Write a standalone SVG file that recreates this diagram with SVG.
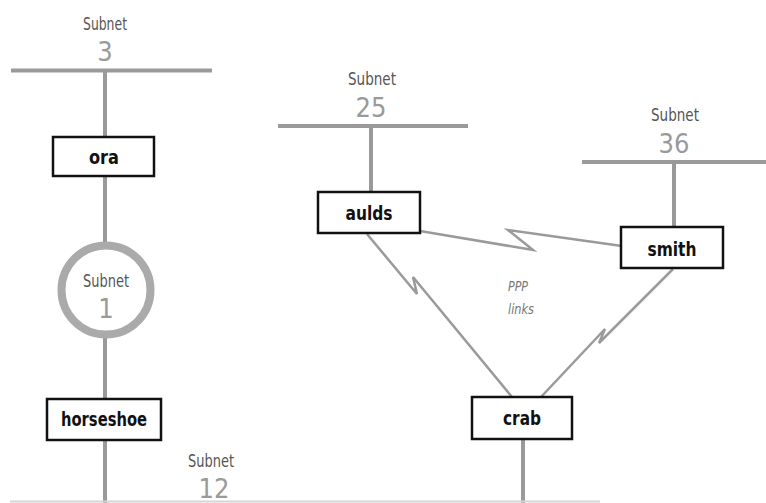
<svg xmlns="http://www.w3.org/2000/svg" width="766" height="503" viewBox="0 0 766 503">
<style>
.bus{stroke:#9a9a9a;stroke-width:4;fill:none}
.link{stroke:#9a9a9a;stroke-width:2.5;fill:none;stroke-linejoin:miter}
.box{fill:#fff;stroke:#111;stroke-width:2.5}
.lbl{font-family:"Liberation Sans Narrow","DejaVu Sans Condensed","Liberation Sans",sans-serif;font-weight:bold;font-size:20px;fill:#111;text-anchor:middle}
.sub{font-family:"Liberation Sans Narrow","DejaVu Sans Condensed","Liberation Sans",sans-serif;font-size:17px;fill:#555;text-anchor:middle}
.num{font-family:"Liberation Sans Narrow","DejaVu Sans Condensed","Liberation Sans",sans-serif;font-size:27px;fill:#9a9a9a;text-anchor:middle}
.ppp{font-family:"Liberation Sans Narrow","DejaVu Sans Condensed","Liberation Sans",sans-serif;font-style:italic;font-size:14px;fill:#777;text-anchor:middle}
</style>
<rect width="766" height="503" fill="#fff"/>
<g id="connectors">
<line class="bus" x1="105" y1="70" x2="105" y2="137"/>
<line class="bus" x1="105" y1="176" x2="105" y2="243"/>
<line class="bus" x1="105" y1="337" x2="105" y2="399"/>
<line class="bus" x1="105" y1="440" x2="105" y2="503"/>
<line class="bus" x1="371" y1="126" x2="371" y2="192"/>
<line class="bus" x1="674" y1="162" x2="674" y2="227"/>
<line class="bus" x1="523" y1="439" x2="523" y2="503"/>
<polyline class="link" points="420,231 533,250 508,230 622,246"/>
<polyline class="link" points="367,234 417,294 413,277 512,397"/>
<polyline class="link" points="673,269 599,343 605,329 541,397"/>
</g>
<g id="subnet3">
<line class="bus" x1="11" y1="70.5" x2="212" y2="70.5"/>
<text class="sub" x="105" y="30" textLength="44" lengthAdjust="spacingAndGlyphs">Subnet</text>
<text class="num" x="105" y="61">3</text>
</g>
<g id="subnet1">
<circle cx="106" cy="290" r="44.5" fill="#fff" stroke="#aaa" stroke-width="8"/>
<text class="sub" x="106" y="287" textLength="46" lengthAdjust="spacingAndGlyphs">Subnet</text>
<text class="num" x="106" y="318">1</text>
</g>
<g id="subnet12">
<line x1="10" y1="501.5" x2="600" y2="501.5" stroke="#d5d5d5" stroke-width="2"/>
<text class="sub" x="211" y="467" textLength="46" lengthAdjust="spacingAndGlyphs">Subnet</text>
<text class="num" x="214" y="498">12</text>
</g>
<g id="subnet25">
<line class="bus" x1="278" y1="126" x2="468" y2="126"/>
<text class="sub" x="372" y="85" textLength="48" lengthAdjust="spacingAndGlyphs">Subnet</text>
<text class="num" x="371" y="117">25</text>
</g>
<g id="subnet36">
<line class="bus" x1="582" y1="162" x2="766" y2="162"/>
<text class="sub" x="675" y="121" textLength="48" lengthAdjust="spacingAndGlyphs">Subnet</text>
<text class="num" x="674" y="153">36</text>
</g>
<g id="ora">
<rect class="box" x="53" y="137" width="101" height="39"/>
<text class="lbl" x="104" y="164" textLength="30" lengthAdjust="spacingAndGlyphs">ora</text>
</g>
<g id="horseshoe">
<rect class="box" x="47" y="399" width="114" height="41"/>
<text class="lbl" x="104" y="426" textLength="86" lengthAdjust="spacingAndGlyphs">horseshoe</text>
</g>
<g id="aulds">
<rect class="box" x="318" y="192" width="102" height="41"/>
<text class="lbl" x="369" y="220" textLength="47" lengthAdjust="spacingAndGlyphs">aulds</text>
</g>
<g id="smith">
<rect class="box" x="621" y="227" width="102" height="41"/>
<text class="lbl" x="672" y="256" textLength="49" lengthAdjust="spacingAndGlyphs">smith</text>
</g>
<g id="crab">
<rect class="box" x="472" y="397" width="100" height="42"/>
<text class="lbl" x="522" y="425" textLength="38" lengthAdjust="spacingAndGlyphs">crab</text>
</g>
<g id="ppp-label">
<text class="ppp" x="518" y="291" textLength="20" lengthAdjust="spacingAndGlyphs">PPP</text>
<text class="ppp" x="521" y="314" textLength="26" lengthAdjust="spacingAndGlyphs">links</text>
</g>
</svg>
